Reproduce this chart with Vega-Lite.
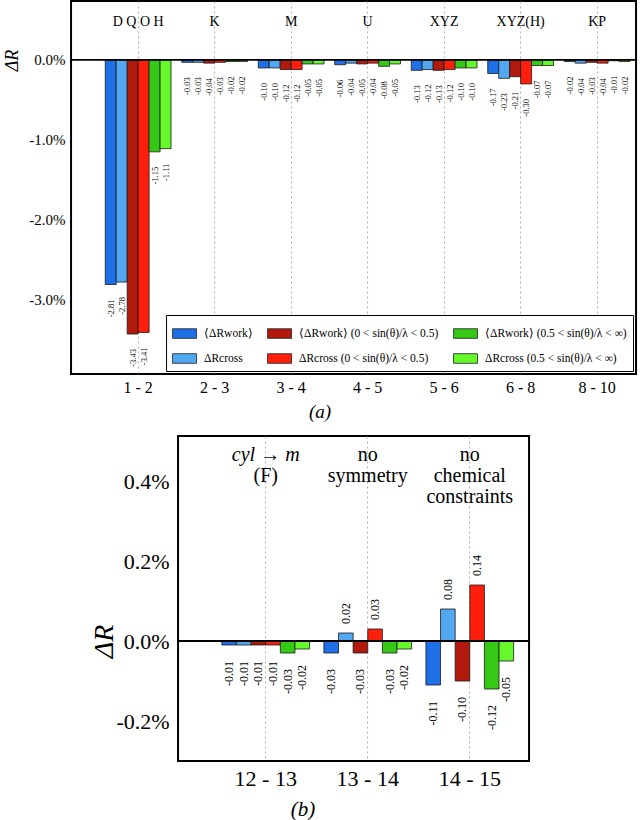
{
  "$schema": "https://vega.github.io/schema/vega-lite/v6.json",
  "padding": {"left": 2, "top": 0, "right": 2, "bottom": 0},
  "background": "white",
  "config": {
    "font": "Liberation Serif, Times New Roman, serif",
    "view": {"stroke": "black", "strokeWidth": 2},
    "axis": {"labelFont": "Liberation Serif, Times New Roman, serif", "titleFont": "Liberation Serif, Times New Roman, serif", "labelColor": "black", "titleColor": "black", "ticks": false, "domain": false},
    "legend": {"labelFont": "Liberation Serif, Times New Roman, serif", "labelColor": "black"},
    "title": {"font": "Liberation Serif, Times New Roman, serif", "color": "black", "fontWeight": "normal"},
    "text": {"font": "Liberation Serif, Times New Roman, serif"}
  },
  "datasets": {
    "barsA": [
      {"g": "1 - 2", "s": "w", "v": -2.81}, {"g": "1 - 2", "s": "c", "v": -2.78}, {"g": "1 - 2", "s": "w1", "v": -3.43}, {"g": "1 - 2", "s": "c1", "v": -3.41}, {"g": "1 - 2", "s": "w2", "v": -1.15}, {"g": "1 - 2", "s": "c2", "v": -1.11},
      {"g": "2 - 3", "s": "w", "v": -0.03}, {"g": "2 - 3", "s": "c", "v": -0.03}, {"g": "2 - 3", "s": "w1", "v": -0.04}, {"g": "2 - 3", "s": "c1", "v": -0.03}, {"g": "2 - 3", "s": "w2", "v": -0.02}, {"g": "2 - 3", "s": "c2", "v": -0.02},
      {"g": "3 - 4", "s": "w", "v": -0.10}, {"g": "3 - 4", "s": "c", "v": -0.10}, {"g": "3 - 4", "s": "w1", "v": -0.12}, {"g": "3 - 4", "s": "c1", "v": -0.12}, {"g": "3 - 4", "s": "w2", "v": -0.05}, {"g": "3 - 4", "s": "c2", "v": -0.05},
      {"g": "4 - 5", "s": "w", "v": -0.06}, {"g": "4 - 5", "s": "c", "v": -0.04}, {"g": "4 - 5", "s": "w1", "v": -0.05}, {"g": "4 - 5", "s": "c1", "v": -0.04}, {"g": "4 - 5", "s": "w2", "v": -0.08}, {"g": "4 - 5", "s": "c2", "v": -0.05},
      {"g": "5 - 6", "s": "w", "v": -0.13}, {"g": "5 - 6", "s": "c", "v": -0.12}, {"g": "5 - 6", "s": "w1", "v": -0.13}, {"g": "5 - 6", "s": "c1", "v": -0.12}, {"g": "5 - 6", "s": "w2", "v": -0.10}, {"g": "5 - 6", "s": "c2", "v": -0.10},
      {"g": "6 - 8", "s": "w", "v": -0.17}, {"g": "6 - 8", "s": "c", "v": -0.23}, {"g": "6 - 8", "s": "w1", "v": -0.21}, {"g": "6 - 8", "s": "c1", "v": -0.30}, {"g": "6 - 8", "s": "w2", "v": -0.07}, {"g": "6 - 8", "s": "c2", "v": -0.07},
      {"g": "8 - 10", "s": "w", "v": -0.02}, {"g": "8 - 10", "s": "c", "v": -0.04}, {"g": "8 - 10", "s": "w1", "v": -0.03}, {"g": "8 - 10", "s": "c1", "v": -0.04}, {"g": "8 - 10", "s": "w2", "v": -0.01}, {"g": "8 - 10", "s": "c2", "v": -0.02}
    ],
    "labA": [
      {"g": "1 - 2", "t": "D Q O H"}, {"g": "2 - 3", "t": "K"}, {"g": "3 - 4", "t": "M"}, {"g": "4 - 5", "t": "U"}, {"g": "5 - 6", "t": "XYZ"}, {"g": "6 - 8", "t": "XYZ(H)"}, {"g": "8 - 10", "t": "KP"}
    ],
    "barsB": [
      {"g": "12 - 13", "s": "w", "v": -0.01}, {"g": "12 - 13", "s": "c", "v": -0.01}, {"g": "12 - 13", "s": "w1", "v": -0.01}, {"g": "12 - 13", "s": "c1", "v": -0.01}, {"g": "12 - 13", "s": "w2", "v": -0.03}, {"g": "12 - 13", "s": "c2", "v": -0.02},
      {"g": "13 - 14", "s": "w", "v": -0.03}, {"g": "13 - 14", "s": "c", "v": 0.02}, {"g": "13 - 14", "s": "w1", "v": -0.03}, {"g": "13 - 14", "s": "c1", "v": 0.03}, {"g": "13 - 14", "s": "w2", "v": -0.03}, {"g": "13 - 14", "s": "c2", "v": -0.02},
      {"g": "14 - 15", "s": "w", "v": -0.11}, {"g": "14 - 15", "s": "c", "v": 0.08}, {"g": "14 - 15", "s": "w1", "v": -0.10}, {"g": "14 - 15", "s": "c1", "v": 0.14}, {"g": "14 - 15", "s": "w2", "v": -0.12}, {"g": "14 - 15", "s": "c2", "v": -0.05}
    ],
    "notesB": [
      {"g": "12 - 13", "t": "cyl → m\n", "st": "italic"},
      {"g": "12 - 13", "t": "\n(F)", "st": "normal"},
      {"g": "13 - 14", "t": "no\nsymmetry", "st": "normal"},
      {"g": "14 - 15", "t": "no\nchemical\nconstraints", "st": "normal"}
    ]
  },
  "spacing": 12,
  "center": true,
  "resolve": {"scale": {"color": "independent", "x": "independent", "y": "independent", "xOffset": "independent"}, "legend": {"color": "independent"}},
  "vconcat": [
    {
      "width": 565,
      "height": 373,
      "title": {"text": "(a)", "orient": "bottom", "frame": "bounds", "anchor": "middle", "fontSize": 19, "fontStyle": "italic", "offset": 8},
      "layer": [
        {
          "data": {"name": "barsA"},
          "mark": {"type": "bar", "stroke": "#1a1a1a", "strokeWidth": 0.8},
          "encoding": {
            "x": {"field": "g", "type": "nominal", "sort": null,
              "scale": {"domain": ["1 - 2", "2 - 3", "3 - 4", "4 - 5", "5 - 6", "6 - 8", "8 - 10"], "paddingInner": 0.14, "paddingOuter": 0.263, "align": 0.85},
              "axis": {"title": null, "labelFontSize": 16, "labelAngle": 0, "labelPadding": 5, "grid": true, "gridDash": [2, 3], "gridColor": "#b0b0b0", "gridWidth": 1, "bandPosition": 0.5}},
            "xOffset": {"field": "s", "type": "nominal", "scale": {"domain": ["w", "c", "w1", "c1", "w2", "c2"], "paddingInner": 0, "paddingOuter": 0}},
            "y": {"field": "v", "type": "quantitative",
              "scale": {"domain": [-3.93, 0.7375], "nice": false, "zero": false},
              "axis": {"values": [-3, -2, -1, 0], "labelExpr": "replace(format(datum.value, '.1f'), '\u2212', '-') + '%'", "labelFontSize": 15, "labelPadding": 6, "grid": false,
                "title": "ΔR", "titleFontSize": 18, "titleFontStyle": "italic", "titleFontWeight": "normal", "titleAngle": 270, "titleX": -59, "titleY": 59, "titleBaseline": "middle", "titleAlign": "center"}},
            "color": {"field": "s", "type": "nominal",
              "scale": {"domain": ["w", "w1", "w2", "c", "c1", "c2"], "range": ["#1f6fe6", "#b0190c", "#35c814", "#52a8f0", "#fe1e0c", "#66f82a"]},
              "legend": {"title": null, "orient": "bottom-right", "offset": 3, "columns": 3, "direction": "horizontal", "labelFontSize": 11.5, "labelLimit": 300,
                "symbolType": "M-1,-0.4H1V0.4H-1Z", "symbolSize": 576, "symbolStrokeColor": "#222", "symbolStrokeWidth": 0.8, "symbolOpacity": 1,
                "fillColor": "white", "strokeColor": "black", "padding": 6, "rowPadding": 6, "columnPadding": 12, "labelOffset": 7,
                "labelExpr": "datum.value == 'w' ? '⟨ΔRwork⟩' : datum.value == 'c' ? 'ΔRcross' : datum.value == 'w1' ? '⟨ΔRwork⟩ (0 < sin(θ)/λ < 0.5)' : datum.value == 'c1' ? 'ΔRcross (0 < sin(θ)/λ < 0.5)' : datum.value == 'w2' ? '⟨ΔRwork⟩ (0.5 < sin(θ)/λ < ∞)' : 'ΔRcross (0.5 < sin(θ)/λ < ∞)'"}}
          }
        },
        {
          "data": {"values": [{}]},
          "mark": {"type": "rule", "color": "black", "strokeWidth": 1.8},
          "encoding": {"y": {"datum": 0}}
        },
        {
          "data": {"name": "barsA"},
          "transform": [{"calculate": "replace(format(datum.v, '.2f'), '\u2212', '-')", "as": "lab"}],
          "mark": {"type": "text", "angle": 270, "align": "right", "baseline": "middle", "fontSize": 8.5, "yOffset": 15, "color": "black"},
          "encoding": {
            "x": {"field": "g", "type": "nominal", "sort": null},
            "xOffset": {"field": "s", "type": "nominal"},
            "y": {"field": "v", "type": "quantitative"},
            "text": {"field": "lab"}
          }
        },
        {
          "data": {"name": "labA"},
          "mark": {"type": "text", "baseline": "middle", "fontSize": 14, "color": "black"},
          "encoding": {
            "x": {"field": "g", "type": "nominal", "sort": null},
            "y": {"datum": 0.475},
            "text": {"field": "t"}
          }
        }
      ]
    },
    {
      "width": 351,
      "height": 325,
      "title": {"text": "(b)", "orient": "bottom", "frame": "bounds", "anchor": "middle", "fontSize": 21, "fontStyle": "italic", "offset": 10, "dx": -7},
      "layer": [
        {
          "data": {"name": "barsB"},
          "mark": {"type": "bar", "stroke": "#1a1a1a", "strokeWidth": 0.8},
          "encoding": {
            "x": {"field": "g", "type": "nominal", "sort": null,
              "scale": {"domain": ["12 - 13", "13 - 14", "14 - 15"], "paddingInner": 0.14, "paddingOuter": 0.29, "align": 0.74},
              "axis": {"title": null, "labelFontSize": 22, "labelAngle": 0, "labelPadding": 7, "grid": true, "gridDash": [2, 3], "gridColor": "#b0b0b0", "gridWidth": 1, "bandPosition": 0.5}},
            "xOffset": {"field": "s", "type": "nominal", "scale": {"domain": ["w", "c", "w1", "c1", "w2", "c2"], "paddingInner": 0, "paddingOuter": 0}},
            "y": {"field": "v", "type": "quantitative",
              "scale": {"domain": [-0.30, 0.5125], "nice": false, "zero": false},
              "axis": {"values": [-0.2, 0, 0.2, 0.4], "labelExpr": "replace(format(datum.value, '.1f'), '\u2212', '-') + '%'", "labelFontSize": 22, "labelPadding": 9, "grid": false,
                "title": "ΔR", "titleFontSize": 28, "titleFontStyle": "italic", "titleFontWeight": "normal", "titleAngle": 270, "titleX": -74, "titleY": 205, "titleBaseline": "middle", "titleAlign": "center"}},
            "color": {"field": "s", "type": "nominal",
              "scale": {"domain": ["w", "w1", "w2", "c", "c1", "c2"], "range": ["#1f6fe6", "#b0190c", "#35c814", "#52a8f0", "#fe1e0c", "#66f82a"]},
              "legend": null}
          }
        },
        {
          "data": {"values": [{}]},
          "mark": {"type": "rule", "color": "black", "strokeWidth": 1.8},
          "encoding": {"y": {"datum": 0}}
        },
        {
          "data": {"name": "barsB"},
          "transform": [{"filter": "datum.v < 0"}, {"calculate": "replace(format(datum.v, '.2f'), '\u2212', '-')", "as": "lab"}],
          "mark": {"type": "text", "angle": 270, "align": "right", "baseline": "middle", "fontSize": 12, "yOffset": 16, "color": "black"},
          "encoding": {
            "x": {"field": "g", "type": "nominal", "sort": null},
            "xOffset": {"field": "s", "type": "nominal"},
            "y": {"field": "v", "type": "quantitative"},
            "text": {"field": "lab"}
          }
        },
        {
          "data": {"name": "barsB"},
          "transform": [{"filter": "datum.v > 0"}, {"calculate": "format(datum.v, '.2f')", "as": "lab"}],
          "mark": {"type": "text", "angle": 270, "align": "left", "baseline": "middle", "fontSize": 12, "yOffset": -9, "color": "black"},
          "encoding": {
            "x": {"field": "g", "type": "nominal", "sort": null},
            "xOffset": {"field": "s", "type": "nominal"},
            "y": {"field": "v", "type": "quantitative"},
            "text": {"field": "lab"}
          }
        },
        {
          "data": {"name": "notesB"},
          "transform": [{"filter": "datum.st == 'italic'"}],
          "mark": {"type": "text", "baseline": "top", "fontSize": 20, "lineHeight": 21, "lineBreak": "\n", "fontStyle": "italic", "color": "black"},
          "encoding": {
            "x": {"field": "g", "type": "nominal", "sort": null},
            "y": {"datum": 0.49},
            "text": {"field": "t"}
          }
        },
        {
          "data": {"name": "notesB"},
          "transform": [{"filter": "datum.st == 'normal'"}],
          "mark": {"type": "text", "baseline": "top", "fontSize": 20, "lineHeight": 21, "lineBreak": "\n", "color": "black"},
          "encoding": {
            "x": {"field": "g", "type": "nominal", "sort": null},
            "y": {"datum": 0.49},
            "text": {"field": "t"}
          }
        }
      ]
    }
  ]
}
